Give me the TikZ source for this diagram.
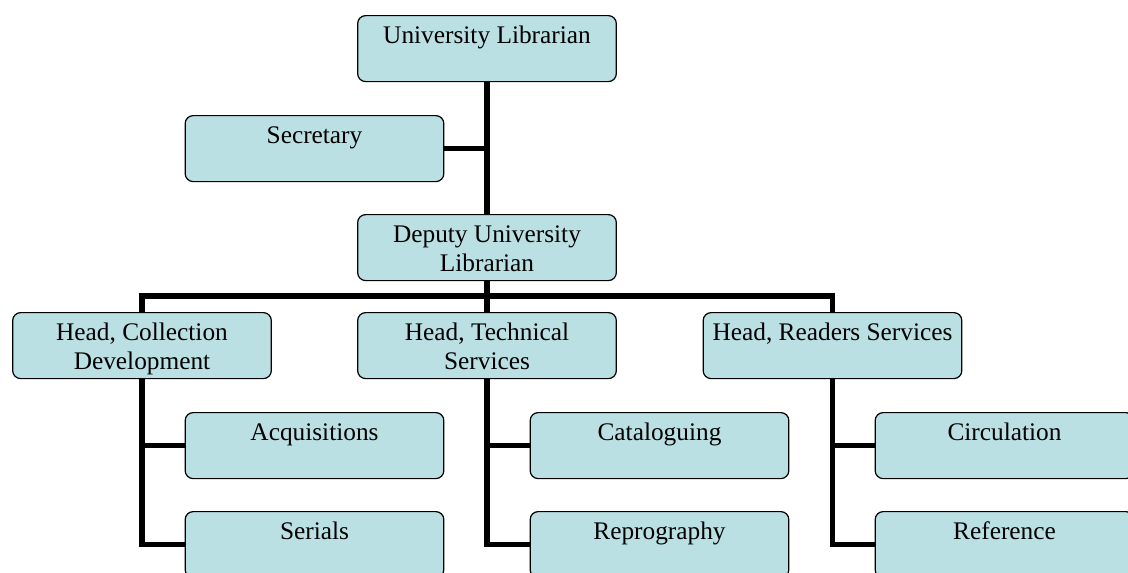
\documentclass[tikz,border=0pt]{standalone}
\usepackage{fontspec}
\setmainfont{Liberation Serif}
\definecolor{postfill}{RGB}{187,224,227}
\tikzset{
  post/.style={draw, line width=0.9pt, rounded corners=6pt, fill=postfill, anchor=north,
    minimum width=194pt, inner xsep=2pt, inner ysep=0pt, align=center,
    text height=20.6pt, text depth=28.9pt, font=\fontsize{19}{22}\selectfont},
  twoline/.style={post, text height=42.6pt, text depth=6.9pt},
  link/.style={draw, line width=3.8pt}
}
\begin{document}
\begin{tikzpicture}[x=0.75pt, y=-0.75pt]
                \useasboundingbox (0,0) rectangle (1128,572);
                \clip (0,0) rectangle (1128,572);
                \node[post] (UL) at (487,15) {University Librarian};
                \node[post] (Sec) at (314.5,115) {Secretary};
                \node[twoline] (DUL) at (487,214) {Deputy University\\Librarian};
                \node[twoline] (HCD) at (142,312) {Head, Collection\\Development};
                \node[twoline] (HTS) at (487,312) {Head, Technical\\Services};
                \node[post] (HRS) at (832.5,312) {Head, Readers Services};
                \node[post] (Acq) at (314.5,412) {Acquisitions};
                \node[post] (Ser) at (314.5,511) {Serials};
                \node[post] (Cat) at (659.5,412) {Cataloguing};
                \node[post] (Rep) at (659.5,511) {Reprography};
                \node[post] (Cir) at (1004.5,412) {Circulation};
                \node[post] (Ref) at (1004.5,511) {Reference};
                \coordinate (bar) at (487,296);
                \draw [link] (UL) -- (DUL);
                \draw [link] (Sec.east) -- (Sec.east -| UL.south);
                \draw [link] (DUL) -- (HTS);
                \draw [link] (HCD.north) |- (bar) -| (HRS.north);
                \draw [link] (HCD.south) |- (Ser.west);
                \draw [link] (HCD.south |- Acq.west) -- (Acq.west);
                \draw [link] (HTS.south) |- (Rep.west);
                \draw [link] (HTS.south |- Cat.west) -- (Cat.west);
                \draw [link] (HRS.south) |- (Ref.west);
                \draw [link] (HRS.south |- Cir.west) -- (Cir.west);
            \end{tikzpicture}
\end{document}
